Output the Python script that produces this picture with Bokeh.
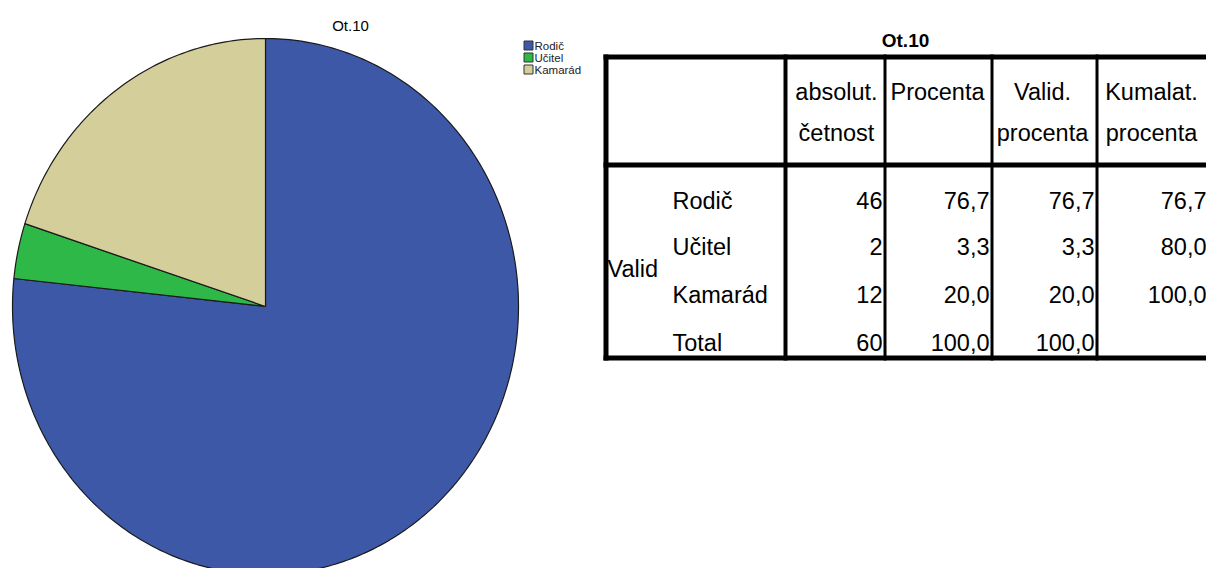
import numpy as np
from bokeh.plotting import figure
from bokeh.models import Range1d
from bokeh.core.properties import value
from bokeh.embed import file_html
from bokeh.resources import INLINE

# ---------------- data ----------------
title = "Ot.10"
categories = ["Rodič", "Učitel", "Kamarád"]
counts = [46, 2, 12]
percents = [76.7, 3.3, 20.0]
valid_percents = [76.7, 3.3, 20.0]
cumulative = [76.7, 80.0, 100.0]
total_count = 60
total_percent = 100.0
total_valid = 100.0
colors = ["#3E58A8", "#2EB848", "#D4CE9A"]
header_lines = [["absolut.", "četnost"], ["Procenta", ""], ["Valid.", "procenta"], ["Kumalat.", "procenta"]]
group_label = "Valid"
total_label = "Total"

FONT = "Liberation Sans"

def fmt(v):
    return f"{v:.1f}".replace(".", ",")

W, H = 1206, 568
p = figure(width=W, height=H, output_backend="svg", toolbar_location=None,
           x_range=Range1d(0, W), y_range=Range1d(H, 0),
           min_border=0, outline_line_color=None)
p.axis.visible = False
p.grid.visible = False
p.background_fill_color = "white"
p.border_fill_color = "white"

# ---------------- pie ----------------
cx, cy, rx, ry = 265, 306, 253, 268
tot = sum(counts)
start = 0.0
xs, ys = [], []
for c in counts:
    a0 = start / tot * 2 * np.pi
    a1 = (start + c) / tot * 2 * np.pi
    t = np.linspace(a0, a1, max(4, int(400 * c / tot)))
    px = [cx] + list(cx + rx * np.sin(t)) + [cx]
    py = [cy] + list(cy - ry * np.cos(t)) + [cy]
    xs.append(px)
    ys.append(py)
    start += c
p.patches(xs, ys, fill_color=colors, line_color="#1a1a1a", line_width=1.2)

p.text([350], [25], text=[title], text_font=value(FONT), text_font_size="15px",
       text_align="center", text_baseline="middle", text_color="black")

# legend
leg_y = [45, 57, 69]
p.rect([528] * 3, leg_y, width=9, height=9, fill_color=colors, line_color="#333333", line_width=1)
p.text([534] * 3, leg_y, text=categories, text_font=value(FONT), text_font_size="11.5px",
       text_align="left", text_baseline="middle", text_color="#222222")

# ---------------- table ----------------
p.text([905], [40], text=[title], text_font=value(FONT), text_font_size="19px",
       text_font_style="bold", text_align="center", text_baseline="middle", text_color="black")

top, hdr, bot = 54, 162, 360
left = 603
vlines = [(603, 608), (783, 787), (883, 886), (990, 993), (1095, 1098)]
right_end = 1220
# horizontal lines
p.quad(left=[left, left, left], right=[right_end] * 3, top=[top, hdr, bot - 5],
       bottom=[top + 5, hdr + 5, bot], fill_color="black", line_color=None)
# vertical lines
p.quad(left=[a for a, b in vlines], right=[b for a, b in vlines], top=[top] * len(vlines),
       bottom=[bot] * len(vlines), fill_color="black", line_color=None)

col_centers = [836, 937, 1042, 1151]
hx, hy, ht = [], [], []
for i, lines in enumerate(header_lines):
    for j, t in enumerate(lines):
        if t:
            hx.append(col_centers[i])
            hy.append(91 + 41 * j)
            ht.append(t)
fs = "23.5px"
p.text(hx, hy, text=ht, text_font=value(FONT), text_font_size=fs,
       text_align="center", text_baseline="middle", text_color="black")

row_y = [200, 246, 294, 342]
p.text([672] * 4, row_y, text=categories + [total_label], text_font=value(FONT), text_font_size=fs,
       text_align="left", text_baseline="middle", text_color="black")
p.text([607], [268], text=[group_label], text_font=value(FONT), text_font_size=fs,
       text_align="left", text_baseline="middle", text_color="black")

col_right = [882, 989, 1094, 1206]
cols = [
    [str(v) for v in counts] + [str(total_count)],
    [fmt(v) for v in percents] + [fmt(total_percent)],
    [fmt(v) for v in valid_percents] + [fmt(total_valid)],
    [fmt(v) for v in cumulative],
]
nx, ny, nt = [], [], []
for i, col in enumerate(cols):
    for j, t in enumerate(col):
        nx.append(col_right[i])
        ny.append(row_y[j])
        nt.append(t)
p.text(nx, ny, text=nt, text_font=value(FONT), text_font_size=fs,
       text_align="right", text_baseline="middle", text_color="black")

open("out.html", "w").write(file_html(p, INLINE))
